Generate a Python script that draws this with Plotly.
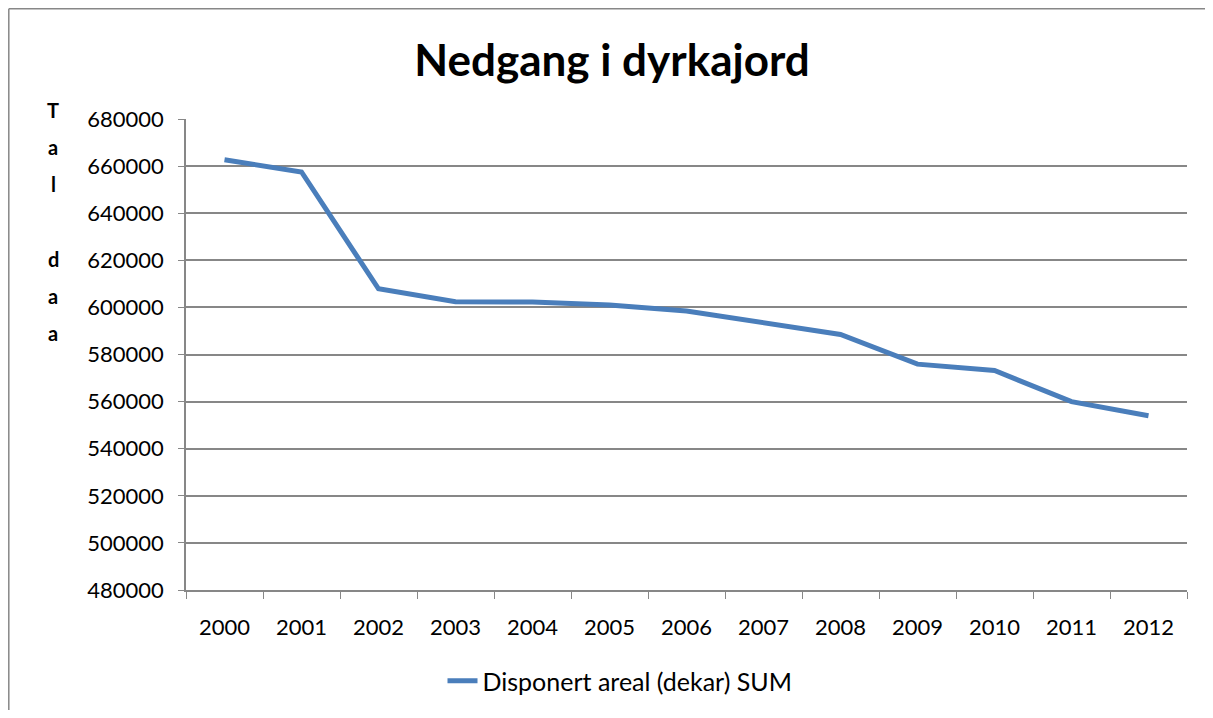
import plotly.graph_objects as go

years = ["2000", "2001", "2002", "2003", "2004", "2005", "2006",
         "2007", "2008", "2009", "2010", "2011", "2012"]
areal = [662700, 657500, 607900, 602400, 602300, 601000, 598500,
         593700, 588500, 575900, 573200, 560000, 554000]
series_name = "Disponert areal (dekar) SUM"
title_text = "Nedgang i dyrkajord"
ytitle_letters = ["T", "a", "l", "", "d", "a", "a"]

FONT = "Lato, 'Open Sans', sans-serif"
GRID = "#878787"

# figure sits at an 8px page offset (body margin); sized to avoid scrollbars
W, H = 1197, 702
L, T, PW, PH = 178, 111, 1001, 471

fig = go.Figure()
fig.add_trace(go.Scatter(
    x=years, y=areal, mode="lines", name=series_name,
    line=dict(color="#4A7EBB", width=5),
))

fig.update_layout(
    width=W, height=H,
    margin=dict(l=L, r=W - L - PW, t=T, b=H - T - PH, autoexpand=False),
    paper_bgcolor="white", plot_bgcolor="white",
    font=dict(family=FONT, size=22, color="black"),
    title=dict(text="<b>" + title_text + "</b>", x=604 / W, xanchor="center",
               y=1 - 53 / H, yanchor="middle",
               font=dict(family=FONT, size=44, color="black")),
    showlegend=True,
    legend=dict(orientation="h", x=(612 - L) / PW, xanchor="center",
                y=1 - (673 - T) / PH, yanchor="middle",
                font=dict(size=25)),
    xaxis=dict(type="category", range=[-0.5, 12.5], automargin=False,
               showgrid=False, showline=True,
               linecolor=GRID, linewidth=1.5, ticks="outside",
               tickson="boundaries", ticklen=7, tickcolor=GRID,
               ticklabelstandoff=17, tickfont=dict(size=22)),
    yaxis=dict(range=[480000, 680000], dtick=20000, tick0=480000,
               automargin=False,
               showgrid=True, gridcolor=GRID, gridwidth=1.5,
               showline=True, linecolor=GRID, linewidth=1.5,
               ticks="outside", ticklen=6, tickcolor=GRID,
               ticklabelstandoff=10,
               tickformat="d", zeroline=False, tickfont=dict(size=22)),
)

# vertical stacked y-axis title letters
y_top = 1 + (T - 102) / PH
step = 37.2 / PH
for i, ch in enumerate(ytitle_letters):
    if not ch:
        continue
    fig.add_annotation(text="<b>" + ch + "</b>", xref="paper", yref="paper",
                       x=(45 - L) / PW, y=y_top - i * step,
                       xanchor="center", yanchor="middle", showarrow=False,
                       font=dict(family=FONT, size=20, color="black"))

# outer chart border (top and left edges visible in the crop)
bx0 = (0.8 - L) / PW
by1 = 1 + (T - 0.8) / PH
fig.add_shape(type="line", xref="paper", yref="paper",
              x0=bx0, x1=(W - L) / PW, y0=by1, y1=by1,
              line=dict(color=GRID, width=1.5), layer="below")
fig.add_shape(type="line", xref="paper", yref="paper",
              x0=bx0, x1=bx0, y0=1 - (H - T) / PH, y1=by1,
              line=dict(color=GRID, width=1.5), layer="below")

fig.write_html("out.html")
